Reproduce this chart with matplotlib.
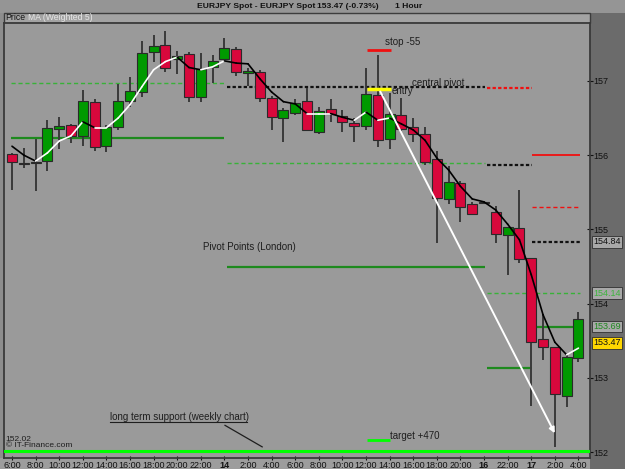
import matplotlib
matplotlib.use("Agg")
import matplotlib.pyplot as plt
from matplotlib.patches import Rectangle
import numpy as np

plt.rcParams["font.family"] = ["Liberation Sans", "DejaVu Sans"]

# EURJPY 1h bars
opens = [156.02, 155.88, 155.90, 155.92, 156.35, 156.41, 156.26, 156.72, 156.12, 156.38,
         156.73, 156.85, 157.39, 157.49, 157.30, 157.36, 156.78, 157.19, 157.30, 157.43,
         157.11, 157.12, 156.77, 156.50, 156.57, 156.73, 156.31, 156.62, 156.53, 156.43,
         156.39, 156.81, 156.22, 156.54, 156.38, 156.29, 155.95, 155.41, 155.63, 155.34,
         155.36, 155.23, 154.92, 155.02, 154.61, 153.52, 153.42, 152.75, 153.27]
highs = [156.03, 156.10, 156.22, 156.47, 156.51, 156.42, 156.88, 156.76, 156.41, 156.96,
         157.05, 157.54, 157.62, 157.67, 157.40, 157.39, 157.38, 157.35, 157.58, 157.46,
         157.18, 157.15, 156.80, 156.64, 156.76, 156.91, 156.65, 156.76, 156.61, 156.50,
         157.18, 157.35, 156.84, 156.77, 156.50, 156.38, 156.06, 155.85, 155.65, 155.37,
         155.37, 155.32, 155.03, 155.53, 154.61, 153.86, 153.42, 153.31, 153.89]
lows = [155.53, 155.83, 155.52, 155.79, 156.08, 156.16, 156.12, 156.06, 156.04, 156.34,
        156.65, 156.78, 157.26, 157.12, 157.09, 156.72, 156.72, 156.97, 157.26, 157.07,
        156.93, 156.72, 156.34, 156.18, 156.54, 156.33, 156.29, 156.45, 156.31, 156.18,
        156.34, 156.11, 156.08, 156.33, 156.18, 155.87, 154.82, 155.34, 155.10, 155.21,
        155.34, 154.82, 154.39, 154.55, 152.62, 153.24, 152.07, 152.61, 153.21]
closes = [155.91, 155.89, 155.91, 156.37, 156.39, 156.26, 156.73, 156.11, 156.38, 156.73,
          156.87, 157.38, 157.47, 157.18, 157.34, 156.78, 157.16, 157.27, 157.44, 157.12,
          157.13, 156.77, 156.51, 156.61, 156.70, 156.34, 156.60, 156.56, 156.45, 156.39,
          156.82, 156.20, 156.56, 156.35, 156.29, 155.91, 155.42, 155.64, 155.30, 155.21,
          155.35, 154.94, 155.03, 154.60, 153.48, 153.42, 152.78, 153.28, 153.79]
# MA (Weighted 5) as drawn
wma5 = [156.12, 156.00, 155.92, 156.03, 156.19, 156.26, 156.45, 156.37, 156.37, 156.50,
        156.68, 156.92, 157.15, 157.26, 157.32, 157.18, 157.15, 157.19, 157.27, 157.24,
        157.23, 157.03, 156.85, 156.72, 156.69, 156.56, 156.56, 156.56, 156.51, 156.47,
        156.58, 156.47, 156.50, 156.42, 156.34, 156.20, 155.96, 155.80, 155.58, 155.41,
        155.37, 155.26, 155.07, 154.86, 154.39, 153.85, 153.48, 153.31, 153.40]

time_labels = ["6:00", "8:00", "10:00", "12:00", "14:00", "16:00", "18:00", "20:00", "22:00",
               "14", "2:00", "4:00", "6:00", "8:00", "10:00", "12:00", "14:00", "16:00",
               "18:00", "20:00", "16", "22:00", "17", "2:00", "4:00"]
day_labels = ["14", "16", "17"]

# London pivot levels per session
pivots_13 = {"central": 156.97, "s1": 156.23}
pivots_14 = {"central": 156.92, "r1": 155.89, "s1": 154.49}
pivots_16 = {"central": 156.91, "r1": 155.87, "s1": 153.13}
pivots_17 = {"r2": 156.00, "central": 155.30, "r1": 154.83, "s1": 153.69}
pivot_16_17_dashed = 154.14

support_level = 152.02
stop_level = 157.42
entry_level = 156.89
target_level = 152.16
last_price = 153.47

BG = "#9a9a9a"
RED = "#d8083c"
GREEN = "#009a00"
W, H = 625, 469

fig = plt.figure(figsize=(W / 100, H / 100), dpi=100)
fig.patch.set_facecolor("#8d8d8d")


def fr(x0, y0, x1, y1, color, **kw):
    fig.add_artist(Rectangle((x0 / W, 1 - y1 / H), (x1 - x0) / W, (y1 - y0) / H,
                             transform=fig.transFigure, facecolor=color,
                             edgecolor=kw.pop("ec", "none"), lw=kw.pop("lw", 0), zorder=0, **kw))


fr(0, 0, W, 13, "#959595")
fr(590, 13, W, H, "#6b6b6b")
fr(0, 458, 590, H, "#9d9d9d")
fr(4, 13, 590, 23, "#a3a3a3", ec="#3c3c3c", lw=1)

ax = fig.add_axes([4 / W, 11 / H, 586 / W, 435 / H])
ax.set_facecolor(BG)
ax.set_xlim(-0.678, 48.98)
ax.set_ylim(151.92, 157.78)
for s in ax.spines.values():
    s.set_color("#3a3a3a")
    s.set_linewidth(1.3)

x = np.arange(len(opens))

# pivot lines
seg13 = (-0.05, 18.0)
seg14 = (18.2, 40.05)
seg16 = (40.25, 44.05)
seg17 = (44.1, 48.1)
ax.hlines(pivots_13["central"], *seg13, colors="#38b238", lw=1, linestyles=(0, (3, 2)))
ax.hlines(pivots_13["s1"], *seg13, colors="#1e8a1e", lw=1.6)
ax.hlines(pivots_14["central"], *seg14, colors="#111111", lw=1.6, linestyles=(0, (1.5, 1)))
ax.hlines(pivots_14["r1"], *seg14, colors="#38b238", lw=1, linestyles=(0, (3, 2)))
ax.hlines(pivots_14["s1"], *seg14, colors="#1e8a1e", lw=1.6)
ax.hlines(pivots_16["central"], *seg16, colors="#f01010", lw=1.6, linestyles=(0, (1.5, 1)))
ax.hlines(pivots_16["r1"], *seg16, colors="#111111", lw=1.6, linestyles=(0, (1.5, 1)))
ax.hlines(pivots_16["s1"], *seg16, colors="#1e8a1e", lw=1.6)
ax.hlines(pivot_16_17_dashed, seg16[0], seg17[1], colors="#38b238", lw=1, linestyles=(0, (3, 2)))
ax.hlines(pivots_17["r2"], *seg17, colors="#f01010", lw=1.3)
ax.hlines(pivots_17["central"], *seg17, colors="#f01010", lw=1, linestyles=(0, (3, 2)))
ax.hlines(pivots_17["r1"], *seg17, colors="#111111", lw=1.6, linestyles=(0, (1.5, 1)))
ax.hlines(pivots_17["s1"], *seg17, colors="#1e8a1e", lw=1.6)

# long term support
ax.axhline(support_level, color="#00ff00", lw=2.2, zorder=4)

# candles
o, c = np.array(opens), np.array(closes)
up = c >= o
ax.vlines(x, lows, highs, colors="#3a3a3a", lw=1.4, zorder=2)
bottom = np.minimum(o, c)
height = np.maximum(np.abs(c - o), 0.012)
ax.bar(x, height, 0.84, bottom=bottom, color=np.where(up, GREEN, RED),
       edgecolor="#2a2a2a", lw=0.8, zorder=3)

# MA line, white while rising, black while falling
for i in range(len(wma5) - 1):
    col = "white" if wma5[i + 1] >= wma5[i] else "black"
    ax.plot(x[i:i + 2], wma5[i:i + 2], color=col, lw=1.2, zorder=5, solid_capstyle="round")

# trade markers
ax.hlines(stop_level, 30.08, 32.1, colors="#f01010", lw=2, zorder=4)
ax.hlines(entry_level, 30.08, 32.1, colors="#ffff00", lw=2.5, zorder=4)
ax.hlines(target_level, 30.08, 32.0, colors="#00ff00", lw=2, zorder=4)
ax.annotate("", xy=(46.1, 152.22), xytext=(31.1, 156.89),
            arrowprops=dict(arrowstyle="-|>", color="white", lw=1.4, mutation_scale=8),
            zorder=6)

tc = "#1e1e1e"
fs = 7
ax.text(31.6, 157.53, "stop -55", fontsize=fs, color=tc, va="center")
ax.text(33.9, 156.97, "central pivot", fontsize=fs, color=tc, va="center")
ax.text(32.2, 156.87, "entry", fontsize=fs, color=tc, va="center")
ax.text(16.2, 154.76, "Pivot Points (London)", fontsize=fs, color=tc, va="center")
ax.text(8.3, 152.47, "long term support (weekly chart)", fontsize=fs, color=tc, va="center")
ax.plot([8.3, 19.9], [152.40, 152.40], color=tc, lw=0.8)
ax.plot([18.05, 21.2], [152.36, 152.07], color=tc, lw=0.9)
ax.text(32.0, 152.21, "target +470", fontsize=fs, color=tc, va="center")
ax.text(0.003, 0.02, "152.02\n\u00a9 IT-Finance.com", transform=ax.transAxes, fontsize=6,
        color=tc, va="bottom", linespacing=0.9)

# axes ticks
ax.yaxis.tick_right()
ax.set_yticks(np.arange(152, 158))
ax.set_yticklabels([str(v) for v in range(152, 158)])
ax.tick_params(axis="y", direction="inout", length=4, width=0.8, pad=0.5, labelsize=6.5,
               colors="#111111")
ax.set_xticks(x[::2])
ax.set_xticklabels(time_labels)
ax.tick_params(axis="x", direction="inout", length=3, width=0.8, pad=1, labelsize=6.5,
               colors="#111111")
for lab in ax.get_xticklabels():
    if lab.get_text() in day_labels:
        lab.set_fontweight("bold")

# price boxes on the right axis
boxes = [(pivots_17["r1"], "154.84", "#111111", "#a8a8a8"),
         (pivot_16_17_dashed, "154.14", "#3cb43c", "#a8a8a8"),
         (pivots_17["s1"], "153.69", "#1e8a1e", "#a8a8a8"),
         (last_price, "153.47", "#111111", "#ffd700")]
for yv, txt, fc, bc in boxes:
    ax.text(1.005, yv, txt, transform=ax.get_yaxis_transform(), fontsize=6.5, color=fc,
            va="center", ha="left",
            bbox=dict(boxstyle="square,pad=0.15", fc=bc, ec="#303030", lw=0.6), clip_on=False)

# title and legend strip
ty = 1 - 7 / H
for px, txt in [(197, "EURJPY Spot - EURJPY Spot"), (317, "153.47 (-0.73%)"), (395, "1 Hour")]:
    fig.text(px / W, ty, txt, ha="left", va="center", fontsize=6.1, fontweight="bold",
             color="#111111")
fig.text(5 / W, 1 - 18 / H, "Price", fontsize=6.2, color="#111111", va="center")
fig.text(28 / W, 1 - 18 / H, "MA (Weighted 5)", fontsize=6.2, color="#e6e6e6", va="center")

fig.savefig("out.png", dpi=100, facecolor=fig.get_facecolor())
